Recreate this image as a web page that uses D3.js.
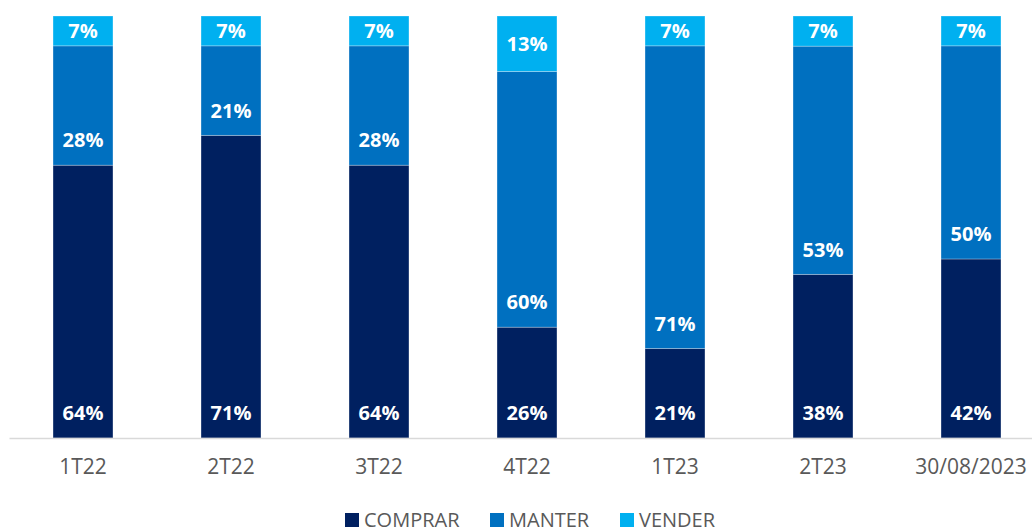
<!DOCTYPE html>
<html>
<head>
<meta charset="utf-8">
<script src="https://cdn.jsdelivr.net/npm/d3@7"></script>
<style>
  html, body { margin: 0; padding: 0; background: #fff; overflow: hidden; }
  svg { display: block; }
</style>
</head>
<body>
<svg id="chart" width="1032" height="532"></svg>
<script>
// Analyst recommendations per period (share of coverage, %)
const periods = ["1T22", "2T22", "3T22", "4T22", "1T23", "2T23", "30/08/2023"];
const comprar = [64, 71, 64, 26, 21, 38, 42];
const manter  = [28, 21, 28, 60, 71, 53, 50];
const vender  = [7, 7, 7, 13, 7, 7, 7];
const seriesNames = ["COMPRAR", "MANTER", "VENDER"];
const seriesColors = ["#002060", "#0070C0", "#00B0F0"];

const rows = periods.map((p, i) => ({ period: p, COMPRAR: comprar[i], MANTER: manter[i], VENDER: vender[i] }));

const svg = d3.select("#chart");
const baseY = 438, topY = 16;
const font = "'Open Sans', 'Liberation Sans', sans-serif";

const x = d3.scaleBand().domain(periods).range([9, 1045]).paddingInner(0.595).paddingOuter(0.2975);
const y = d3.scaleLinear().domain([0, 1]).range([baseY, topY]);
const color = d3.scaleOrdinal().domain(seriesNames).range(seriesColors);

const stacked = d3.stack().keys(seriesNames).offset(d3.stackOffsetExpand)(rows);

const layers = svg.append("g").selectAll("g").data(stacked).join("g")
  .attr("fill", d => color(d.key));

layers.selectAll("rect").data(d => d).join("rect")
  .attr("x", d => x(d.data.period))
  .attr("width", x.bandwidth())
  .attr("y", d => y(d[1]))
  .attr("height", d => y(d[0]) - y(d[1]))
  .attr("stroke", "#ffffff")
  .attr("stroke-opacity", 0.35)
  .attr("stroke-width", 0.8);

// value labels
layers.each(function(layer) {
  d3.select(this).selectAll("text").data(layer).join("text")
    .attr("x", d => x(d.data.period) + x.bandwidth() / 2)
    .attr("y", d => layer.key === "VENDER" ? (y(d[0]) + y(d[1])) / 2 : y(d[0]) - 25)
    .attr("dy", "0.36em")
    .attr("text-anchor", "middle")
    .attr("fill", "#ffffff")
    .attr("font-family", font)
    .attr("font-weight", 700)
    .attr("font-size", 20)
    .text(d => d.data[layer.key] + "%");
});

// category axis
const axis = svg.append("g").attr("transform", `translate(0,${baseY})`)
  .call(d3.axisBottom(x).tickSize(0).tickPadding(21));
axis.select(".domain").attr("stroke", "#d9d9d9").attr("stroke-width", 1.5);
axis.selectAll("text")
  .attr("fill", "#595959")
  .attr("font-family", font)
  .attr("font-size", 21);

// legend
const legendX = [345, 490, 620];
const legend = svg.append("g").selectAll("g").data(seriesNames).join("g")
  .attr("transform", (d, i) => `translate(${legendX[i]},513)`);
legend.append("rect").attr("width", 14).attr("height", 14).attr("fill", d => color(d));
legend.append("text")
  .attr("x", 19).attr("y", 7).attr("dy", "0.36em")
  .attr("fill", "#595959")
  .attr("font-family", font)
  .attr("font-size", 20)
  .text(d => d);
</script>
</body>
</html>
